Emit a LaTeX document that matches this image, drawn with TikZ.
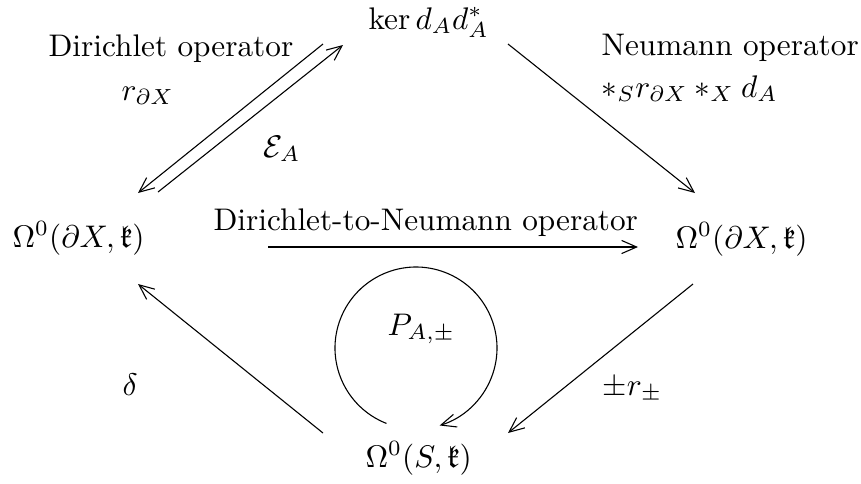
\documentclass[tikz,border=0pt]{standalone}
\usepackage{amssymb}
\usetikzlibrary{arrows.meta}
\begin{document}
\begin{tikzpicture}[x=0.32pt,y=0.32pt,
  lbl/.style={inner sep=0pt,anchor=base west},
  arr/.style={line width=0.35pt,-{Straight Barb[length=4.8pt,width=4.2pt,line width=0.35pt]}}]
\useasboundingbox (0,0) rectangle (861,-483);
% objects
\node[lbl] (ker) at (368,-29) {$\ker d_A d_A^*$};
\node[lbl] (L) at (12,-247) {$\Omega^0(\partial X,\mathfrak{k})$};
\node[lbl] (R) at (675,-248) {$\Omega^0(\partial X,\mathfrak{k})$};
\node[lbl] (B) at (365,-467) {$\Omega^0(S,\mathfrak{k})$};
% labels
\node[lbl] (dir) at (48,-56) {Dirichlet operator};
\node[lbl] (dirr) at (121,-100) {$r_{\partial X}$};
\node[lbl] (ext) at (263,-157) {$\mathcal{E}_A$};
\node[lbl] (neu) at (601,-55) {Neumann operator};
\node[lbl] (neur) at (601,-97) {$*_S r_{\partial X} *_X d_A$};
\node[lbl] (dtn) at (213,-230) {Dirichlet-to-Neumann operator};
\node[lbl] (del) at (122,-395) {$\delta$};
\node[lbl] (pr) at (602,-395) {$\pm r_\pm$};
\node[lbl] (P) at (387,-335) {$P_{A,\pm}$};
% connector end points
\coordinate (k1) at (323,-44);  \coordinate (l1) at (138,-193);
\coordinate (l2) at (158,-192); \coordinate (k2) at (343,-45);
\coordinate (k3) at (508,-44);  \coordinate (r3) at (695,-193);
\coordinate (l4) at (268,-247); \coordinate (r4) at (638,-247);
\coordinate (b5) at (323,-433); \coordinate (l5) at (138,-284);
\coordinate (r6) at (693,-284); \coordinate (b6) at (508,-433);
\coordinate (c) at (416,-348);
% connectors
\draw[arr] (k1) -- (l1);
\draw[arr] (l2) -- (k2);
\draw[arr] (k3) -- (r3);
\draw[arr] (l4) -- (r4);
\draw[arr] (b5) -- (l5);
\draw[arr] (r6) -- (b6);
\draw[arr] ([shift={(248.6:81)}]c) arc[start angle=248.6,end angle=-73,radius=81];
\end{tikzpicture}
\end{document}
